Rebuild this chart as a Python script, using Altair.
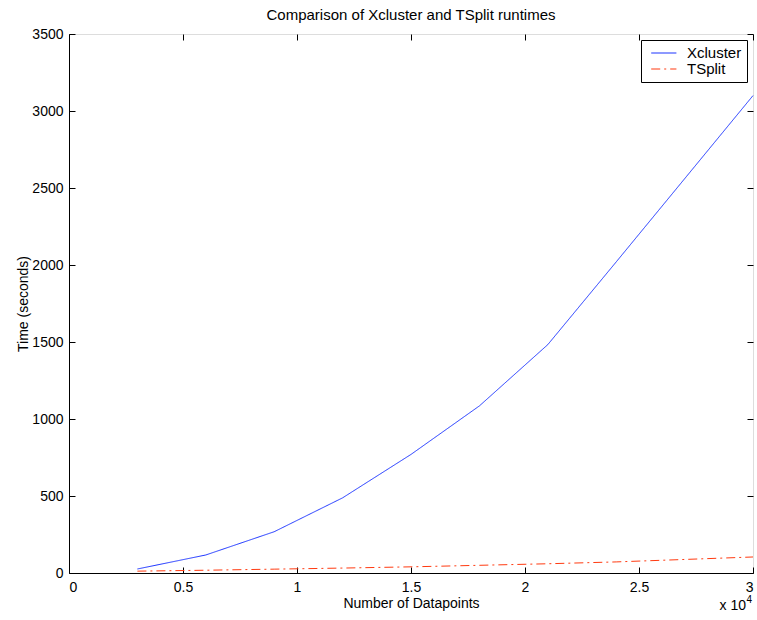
import altair as alt
import pandas as pd

datapoints = [3000, 6000, 9000, 12000, 15000, 18000, 21000, 24000, 27000, 30000]
xcluster = [26, 117, 268, 488, 770, 1085, 1483, 2020, 2560, 3100]
tsplit = [12, 18, 25, 32, 40, 50, 60, 72, 88, 104]
series_names = ["Xcluster", "TSplit"]
x_ticks = [0, 5000, 10000, 15000, 20000, 25000, 30000]
y_ticks = [0, 500, 1000, 1500, 2000, 2500, 3000, 3500]

rows = []
for name, vals in zip(series_names, [xcluster, tsplit]):
    for x, y in zip(datapoints, vals):
        rows.append({"n": x, "t": y, "series": name})
df = pd.DataFrame(rows)

W, H = 684, 539
FONT = "Liberation Sans"
TICK = 6
FS = 14

x_scale = alt.Scale(domain=[0, 30000], nice=False, zero=False)
y_scale = alt.Scale(domain=[0, 3500], nice=False)

lines = alt.Chart(df).mark_line(strokeWidth=1).encode(
    x=alt.X("n:Q", scale=x_scale,
            axis=alt.Axis(values=x_ticks, title="Number of Datapoints",
                          labelExpr="datum.value / 10000",
                          ticks=False, grid=True, gridColor="black", gridWidth=1,
                          gridDash=[TICK, H - 2 * TICK, TICK, 2000],
                          domainColor="black", labelPadding=7, titlePadding=2,
                          labelFontSize=FS, titleFontSize=FS,
                          labelColor="black", titleColor="black",
                          labelFont=FONT, titleFont=FONT, titleFontWeight="normal")),
    y=alt.Y("t:Q", scale=y_scale,
            axis=alt.Axis(values=y_ticks, title="Time (seconds)", format="d",
                          ticks=False, grid=True, gridColor="black", gridWidth=1,
                          gridDash=[TICK, W - 2 * TICK, TICK, 2000],
                          domainColor="black", labelPadding=6, titlePadding=1,
                          labelFontSize=FS, titleFontSize=FS,
                          labelColor="black", titleColor="black",
                          labelFont=FONT, titleFont=FONT, titleFontWeight="normal")),
    color=alt.Color("series:N",
                    scale=alt.Scale(domain=series_names, range=["#1a33ff", "#ff3a10"]),
                    legend=alt.Legend(title=None, orient="top-right", offset=6,
                                      symbolType="M-0.4,0H3.2", symbolSize=196,
                                      symbolStrokeWidth=1.2,
                                      labelFontSize=15, labelFont=FONT, labelColor="black",
                                      labelOffset=25,
                                      strokeColor="black", fillColor="white",
                                      padding=5, rowPadding=-2)),
    strokeDash=alt.StrokeDash("series:N",
                              scale=alt.Scale(domain=series_names, range=[[1, 0], [9, 4, 2, 4]]),
                              legend=None),
    detail="series:N",
)

exp_txt = alt.Chart(pd.DataFrame({"v": [30000]})).mark_text(
    text="x 10", align="right", baseline="alphabetic", fontSize=FS, font=FONT, color="black"
).encode(x=alt.X("v:Q", scale=x_scale), y=alt.value(H + 37), xOffset=alt.value(-7))

exp_sup = alt.Chart(pd.DataFrame({"v": [30000]})).mark_text(
    text="4", align="right", baseline="alphabetic", fontSize=10, font=FONT, color="black"
).encode(x=alt.X("v:Q", scale=x_scale), y=alt.value(H + 30), xOffset=alt.value(-1))

chart = alt.layer(lines, exp_txt, exp_sup).properties(
    width=W, height=H,
    title=alt.Title("Comparison of Xcluster and TSplit runtimes", fontSize=15,
                    font=FONT, fontWeight="normal", color="black", offset=4),
    autosize=alt.AutoSizeParams(type="none"),
    padding={"left": 69, "top": 34, "right": 4, "bottom": 47},
).configure_view(stroke="black", strokeWidth=1).configure(background="white")

chart.save("out.html", embed_options={"renderer": "svg", "actions": False})
